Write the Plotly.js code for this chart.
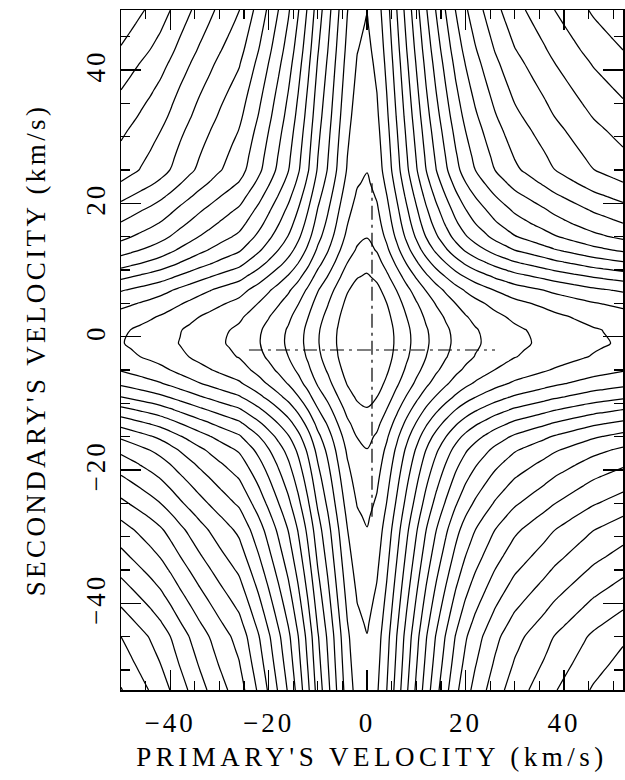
<!DOCTYPE html>
<html>
<head>
<meta charset="utf-8">
<script src="https://cdn.plot.ly/plotly-3.0.1.min.js"></script>
<style>
html,body{margin:0;padding:0;background:#fff}
#chart{width:625px;height:780px}
#chart .xtitle{letter-spacing:4.5px}
#chart .ytitle{letter-spacing:3.4px}
#chart .xtick text, #chart .ytick text{letter-spacing:3px}
</style>
</head>
<body>
<div id="chart"></div>
<script>
const primaryVel = [-50,-48,-46,-44,-42,-40,-38,-36,-34,-32,-30,-28,-26,-24,-22,-20,-18,-16,-14,-12,-10,-8,-6,-4,-2,0,2,4,6,8,10,12,14,16,18,20,22,24,26,28,30,32,34,36,38,40,42,44,46,48,50,52];
const primaryProfile = [3.62,3.57,3.52,3.47,3.415,3.345,3.27,3.20,3.13,3.065,3.00,2.94,2.88,2.77,2.66,2.535,2.405,2.27,2.105,1.915,1.70,1.53,1.34,1.16,1.044,1.003,1.075,1.225,1.41,1.60,1.78,1.955,2.11,2.25,2.385,2.50,2.595,2.675,2.755,2.82,2.885,2.93,2.975,3.02,3.07,3.11,3.15,3.19,3.23,3.26,3.29,3.32];
// Secondary's velocity grid (km/s) and the secondary profile
const secondaryVel = [-53,-51,-49,-47,-45,-43,-41,-39,-37,-35,-33,-31,-29,-27,-25,-23,-21,-19,-17,-15,-13,-11,-9,-7,-5,-3,-1,1,3,5,7,9,11,13,15,17,19,21,23,25,27,29,31,33,35,37,39,41,43,45,47,49];
const secondaryProfile = [7.54,7.465,7.39,7.32,7.25,7.125,7.0,6.875,6.75,6.625,6.50,6.38,6.26,6.10,5.93,5.77,5.61,5.44,5.25,4.99,4.66,4.30,3.93,3.60,3.36,3.19,3.12,3.145,3.27,3.46,3.73,4.12,4.54,4.94,5.26,5.49,5.68,5.88,6.08,6.26,6.34,6.42,6.50,6.59,6.67,6.75,6.83,6.91,7.0,7.08,7.16,7.24];
// Upper-left correction (read from the crossings along the left edge): x part and y part
const upperLeftX = [-2.20,-2.16,-2.12,-2.07,-2.03,-1.97,-1.91,-1.85,-1.79,-1.73,-1.68,-1.63,-1.58,-1.49,-1.39,-1.29,-1.18,-1.07,-0.93,-0.77,-0.59,-0.45,-0.29,-0.13,-0.04,
  0,0,0,0,0,0,0,0,0,0,0,0,0,0,0,0,0,0,0,0,0,0,0,0,0,0,0];
const upperLeftY = [0,0,0,0,0,0,0,0,0,0,0,0,0,0,0,0,0,0,0,0,0,0,0,0,0,0,0,0,0,0,
  0.08,0.2,0.35,0.55,0.7,0.77,0.8,0.82,0.84,0.87,0.9,0.93,0.95,0.97,0.99,1,1,1,1,1,1,1];
// Contour levels
const levelStart = 4.24, levelEnd = 45, levelStep = 1;
// Best-fit velocities and the extents of the dash-dot cross
const crossH_x = [-24, 26], crossH_y = [-2, -2];
const crossV_x = [1, 1], crossV_y = [-27, 23];

const z = secondaryProfile.map((q, i) => primaryProfile.map((p, j) =>
  p * q + upperLeftX[j] * upperLeftY[i]));

const font = {family: 'Liberation Serif, Times New Roman, serif', size: 27, color: '#000'};
const dashdot = '14px,5px,3px,5px';
const traces = [
  {type: 'contour', x: primaryVel, y: secondaryVel, z: z,
   contours: {coloring: 'none', start: levelStart, end: levelEnd, size: levelStep, showlabels: false},
   line: {color: '#000', width: 1.25, smoothing: 1},
   showscale: false, hoverinfo: 'skip'},
  {type: 'scatter', mode: 'lines', x: crossH_x, y: crossH_y,
   line: {color: '#000', width: 1.2, dash: dashdot}, showlegend: false, hoverinfo: 'skip'},
  {type: 'scatter', mode: 'lines', x: crossV_x, y: crossV_y,
   line: {color: '#000', width: 1.2, dash: dashdot}, showlegend: false, hoverinfo: 'skip'}
];
const axisCommon = {
  showgrid: false, zeroline: false, showline: true, linecolor: '#000', linewidth: 1.5,
  mirror: 'allticks', ticks: 'inside', ticklen: 20, tickwidth: 1.2, tickcolor: '#000',
  dtick: 20, tick0: 0, tickfont: font,
  minor: {dtick: 5, ticks: 'inside', ticklen: 9, tickwidth: 1.2, tickcolor: '#000', showgrid: false}
};
const layout = {
  width: 625, height: 780,
  margin: {l: 121, r: 2, t: 10, b: 90},
  paper_bgcolor: '#fff', plot_bgcolor: '#fff',
  showlegend: false,
  xaxis: Object.assign({}, axisCommon, {range: [-50, 52], ticklabelstandoff: 8,
    title: {text: "PRIMARY'S VELOCITY (km/s)", font: font, standoff: 10}}),
  yaxis: Object.assign({}, axisCommon, {range: [-53, 49], tickangle: -90, ticklabelstandoff: 4,
    title: {text: "SECONDARY'S VELOCITY (km/s)", font: font, standoff: 27}})
};
Plotly.newPlot('chart', traces, layout, {staticPlot: true});
</script>
</body>
</html>
